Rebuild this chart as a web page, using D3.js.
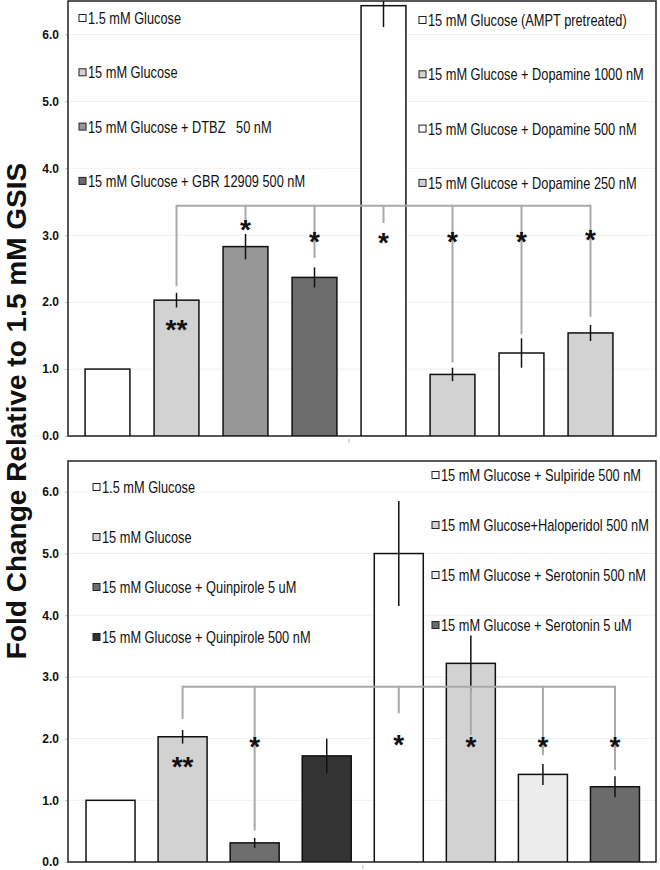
<!DOCTYPE html>
<html>
<head>
<meta charset="utf-8">
<script src="https://cdn.jsdelivr.net/npm/d3@7"></script>
<style>
  html, body { margin: 0; padding: 0; background: #fff; }
  svg { display: block; }
  text { font-family: "Liberation Sans", Arial, sans-serif; }
</style>
</head>
<body>
<svg id="chart" width="660" height="870"></svg>
<script>
// ---------- DATA ----------
const categoriesTop = [
  "1.5 mM Glucose",
  "15 mM Glucose",
  "15 mM Glucose + DTBZ   50 nM",
  "15 mM Glucose + GBR 12909 500 nM",
  "15 mM Glucose (AMPT pretreated)",
  "15 mM Glucose + Dopamine 1000 nM",
  "15 mM Glucose + Dopamine 500 nM",
  "15 mM Glucose + Dopamine 250 nM"
];
const valuesTop   = [1.00, 2.03, 2.83, 2.37, 6.43, 0.92, 1.24, 1.54];
const errorsTop   = [0.00, 0.11, 0.19, 0.15, 0.32, 0.10, 0.22, 0.12];
const colorsTop   = ["#ffffff", "#d2d2d2", "#979797", "#6c6c6c", "#ffffff", "#d2d2d2", "#ffffff", "#d2d2d2"];
const sigTop      = ["", "**", "*", "*", "*", "*", "*", "*"];
const sigYTop     = [null, 1.69, 3.19, 3.00, 2.99, 3.00, 3.00, 3.03];
const stubEndTop  = [null, 2.24, 3.13, 2.66, 3.18, 1.10, 1.52, 1.78];
const bracketTop  = 3.44;

const categoriesBottom = [
  "1.5 mM Glucose",
  "15 mM Glucose",
  "15 mM Glucose + Quinpirole 5 uM",
  "15 mM Glucose + Quinpirole 500 nM",
  "15 mM Glucose + Sulpiride 500 nM",
  "15 mM Glucose+Haloperidol 500 nM",
  "15 mM Glucose + Serotonin 500 nM",
  "15 mM Glucose + Serotonin 5 uM"
];
const valuesBottom   = [1.00, 2.03, 0.31, 1.72, 5.00, 3.22, 1.42, 1.22];
const errorsBottom   = [0.00, 0.11, 0.08, 0.28, 0.85, 0.45, 0.17, 0.17];
const colorsBottom   = ["#ffffff", "#d2d2d2", "#6e6e6e", "#333333", "#ffffff", "#d2d2d2", "#ececec", "#6b6b6b"];
const sigBottom      = ["", "**", "*", "", "*", "*", "*", "*"];
const sigYBottom     = [null, 1.65, 1.98, null, 2.01, 1.98, 1.98, 1.98];
const stubEndBottom  = [null, 2.32, 0.51, null, 2.41, 2.06, 1.73, 1.49];
const bracketBottom  = 2.84;

const yTicks = [0, 1, 2, 3, 4, 5, 6];
const yMax = 6.5;
const yTitle = "Fold Change Relative to 1.5 mM GSIS";

// ---------- DRAW ----------
const svg = d3.select("#chart");

function drawPanel(cfg) {
  const g = svg.append("g");
  const y = d3.scaleLinear().domain([0, yMax]).range([cfg.bottom, cfg.top]);
  const x = d3.scaleBand().domain(d3.range(cfg.values.length))
    .range(cfg.xRange).paddingInner(cfg.pad).paddingOuter(cfg.pad / 2);

  const clipId = "clip" + cfg.id;
  svg.append("defs").append("clipPath").attr("id", clipId)
    .append("rect").attr("x", cfg.left).attr("y", cfg.top)
    .attr("width", cfg.right - cfg.left).attr("height", cfg.bottom - cfg.top);

  // gridlines
  g.append("g").selectAll("line").data(yTicks.slice(1)).join("line")
    .attr("x1", cfg.left).attr("x2", cfg.right)
    .attr("y1", d => y(d)).attr("y2", d => y(d))
    .attr("stroke", "#f0f0f0").attr("stroke-width", 1);

  // axis
  const ax = g.append("g").attr("transform", `translate(${cfg.left},0)`)
    .call(d3.axisLeft(y).tickValues(yTicks).tickFormat(d3.format(".1f")).tickSize(3).tickPadding(6));
  ax.select(".domain").remove();
  ax.selectAll(".tick line").attr("stroke", "#bbb");
  ax.selectAll(".tick text").attr("font-size", 12).attr("font-weight", "bold")
    .attr("fill", "#111").style("font-family", '"Liberation Sans", Arial, sans-serif');

  // frame
  g.append("rect").attr("x", cfg.left).attr("y", cfg.top)
    .attr("width", cfg.right - cfg.left).attr("height", cfg.bottom - cfg.top)
    .attr("fill", "none").attr("stroke", "#222").attr("stroke-width", 1.5);

  const plot = g.append("g").attr("clip-path", `url(#${clipId})`);

  // bars
  plot.selectAll("rect.bar").data(cfg.values).join("rect").attr("class", "bar")
    .attr("x", (d, i) => x(i)).attr("width", x.bandwidth())
    .attr("y", d => y(d)).attr("height", d => y(0) - y(d))
    .attr("fill", (d, i) => cfg.colors[i]).attr("stroke", "#111").attr("stroke-width", 1.5);

  // error bars
  plot.selectAll("line.err").data(cfg.values.map((v, i) => ({ v, e: cfg.errors[i], i })).filter(d => d.e > 0))
    .join("line").attr("class", "err")
    .attr("x1", d => x(d.i) + x.bandwidth() / 2).attr("x2", d => x(d.i) + x.bandwidth() / 2)
    .attr("y1", d => y(d.v + d.e)).attr("y2", d => y(d.v - d.e))
    .attr("stroke", "#111").attr("stroke-width", 1.5);

  // bracket
  const stubIdx = cfg.stubs.map((s, i) => s == null ? null : i).filter(i => i != null);
  const cx = i => x(i) + x.bandwidth() / 2;
  plot.append("line")
    .attr("x1", cx(stubIdx[0])).attr("x2", cx(stubIdx[stubIdx.length - 1]))
    .attr("y1", y(cfg.bracket)).attr("y2", y(cfg.bracket))
    .attr("stroke", "#a9a9a9").attr("stroke-width", 2);
  plot.selectAll("line.stub").data(stubIdx).join("line").attr("class", "stub")
    .attr("x1", i => cx(i)).attr("x2", i => cx(i))
    .attr("y1", y(cfg.bracket) - 1).attr("y2", i => y(cfg.stubs[i]))
    .attr("stroke", "#a9a9a9").attr("stroke-width", 2);

  // significance marks
  plot.selectAll("text.sig").data(cfg.sig.map((s, i) => ({ s, i })).filter(d => d.s))
    .join("text").attr("class", "sig")
    .attr("x", d => cx(d.i)).attr("y", d => y(cfg.sigY[d.i]) + 16)
    .attr("text-anchor", "middle").attr("font-size", 28).attr("font-weight", "bold")
    .attr("fill", "#111").text(d => d.s);

  // small category tick between 4th and 5th group
  g.append("line")
    .attr("x1", (cx(3) + cx(4)) / 2).attr("x2", (cx(3) + cx(4)) / 2)
    .attr("y1", cfg.bottom + 3).attr("y2", cfg.bottom + 7)
    .attr("stroke", "#bbb").attr("stroke-width", 1);

  // legends
  cfg.legends.forEach(L => {
    L.idx.forEach((ci, k) => {
      const cy = L.y0 + k * L.dy;
      g.append("rect").attr("x", L.x).attr("y", cy - 3.5).attr("width", 7).attr("height", 7)
        .attr("fill", cfg.colors[ci]).attr("stroke", "#222").attr("stroke-width", 1);
      g.append("text")
        .attr("transform", `translate(${L.x + 9},${cy + 6}) scale(0.8,1)`)
        .attr("font-size", 16).attr("fill", "#111")
        .style("white-space", "pre")
        .text(cfg.categories[ci]);
    });
  });
}

drawPanel({
  id: "top", top: 1, bottom: 436, left: 68, right: 656, xRange: [73, 625], pad: 0.35,
  values: valuesTop, errors: errorsTop, colors: colorsTop, sig: sigTop, sigY: sigYTop,
  stubs: stubEndTop, bracket: bracketTop, categories: categoriesTop,
  legends: [
    { x: 79, y0: 18, dy: 54.3, idx: [0, 1, 2, 3] },
    { x: 419, y0: 20, dy: 54.3, idx: [4, 5, 6, 7] }
  ]
});

drawPanel({
  id: "bottom", top: 461, bottom: 862, left: 68, right: 656, xRange: [74.5, 651], pad: 0.32,
  values: valuesBottom, errors: errorsBottom, colors: colorsBottom, sig: sigBottom, sigY: sigYBottom,
  stubs: stubEndBottom, bracket: bracketBottom, categories: categoriesBottom,
  legends: [
    { x: 93, y0: 487, dy: 50, idx: [0, 1, 2, 3] },
    { x: 432, y0: 475, dy: 50, idx: [4, 5, 6, 7] }
  ]
});

// y-axis title
svg.append("text")
  .attr("transform", "translate(26,411) rotate(-90)")
  .attr("text-anchor", "middle").attr("font-size", 28).attr("font-weight", "bold")
  .attr("fill", "#111").text(yTitle);
</script>
</body>
</html>
